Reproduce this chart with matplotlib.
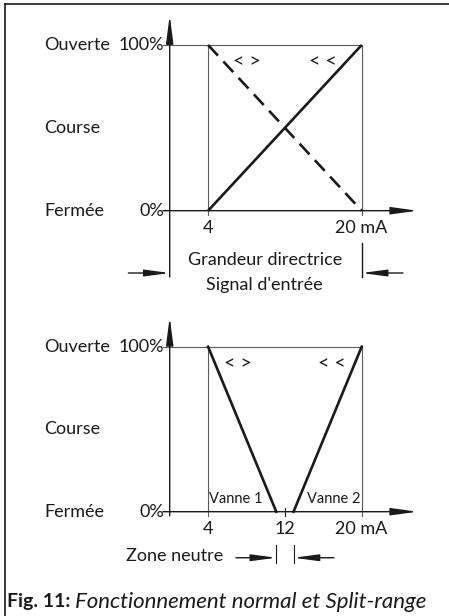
import matplotlib
matplotlib.use("Agg")
import matplotlib.pyplot as plt

plt.rcParams["font.family"] = ["Lato", "DejaVu Sans"]

# signal (mA) and valve stroke (%)
signal_range = [4, 20]
stroke_direct = [0, 100]
stroke_reverse = [100, 0]

valve1_signal = [4, 11.1]
valve1_stroke = [100, 0]
valve2_signal = [12.9, 20]
valve2_stroke = [0, 100]

stroke_labels = ["Ouverte", "Course", "Fermée"]
stroke_levels = [100, 50, 0]

W, H = 449, 616
fig = plt.figure(figsize=(W / 100, H / 100), dpi=100)

PX_MA = 9.6          # pixels per mA
X0 = 169.7           # pixel of 0 mA
xlim = (-X0 / PX_MA, (W - X0) / PX_MA)


def make_axes(zero_px, px_pct):
    ax = fig.add_axes([0, 0, 1, 1])
    ax.set_xlim(*xlim)
    zb = H - zero_px
    ax.set_ylim(-zb / px_pct, (H - zb) / px_pct)
    ax.axis("off")
    ax.patch.set_alpha(0)
    return ax


BLACK = "#1a1a1a"
GREY = "#5a5a5a"
FS = 13


def arrow(ax, x0, y0, x1, y1, hl=1.5, hw=0.2):
    ax.annotate("", xy=(x1, y1), xytext=(x0, y0),
                arrowprops=dict(arrowstyle=f"-|>,head_length={hl},head_width={hw}",
                                mutation_scale=10, lw=1.0, color=BLACK,
                                shrinkA=0, shrinkB=0),
                annotation_clip=False)


def frame(ax, ybottom):
    # axes with arrows
    arrow(ax, 0, ybottom, 0, 118, hl=1.7, hw=0.22)
    arrow(ax, -0.7, 0, 25.8, 0, hl=1.6, hw=0.22)
    ax.plot([-0.7, signal_range[1]], [100, 100], color=GREY, lw=0.8)
    for x in signal_range:
        ax.plot([x, x], [-2.5, 100], color=GREY, lw=0.8)
    for lab, lvl in zip(stroke_labels, stroke_levels):
        ax.text(-13.1, lvl, lab, ha="left", va="center", fontsize=FS, color=BLACK)
    ax.text(-0.6, 100, "100%", ha="right", va="center", fontsize=FS, color=BLACK)
    ax.text(-0.6, 0, "0%", ha="right", va="center", fontsize=FS, color=BLACK)
    ax.text(4, -10.6, "4", ha="center", va="center", fontsize=FS, color=BLACK)
    ax.text(17.2, -10.6, "20 mA", ha="left", va="center", fontsize=FS, color=BLACK)


# --- top chart: normal operation
ax1 = make_axes(210.7, 1.657)
frame(ax1, -40)
ax1.plot(signal_range, stroke_direct, color=BLACK, lw=1.9, solid_capstyle="butt")
ax1.plot(signal_range, stroke_reverse, color=BLACK, lw=1.9, dashes=(5.5, 3))
ax1.text(8.05, 90, "< >", ha="center", va="center", fontsize=14, color=BLACK)
ax1.text(16.0, 90, "< <", ha="center", va="center", fontsize=14, color=BLACK)
ax1.plot([20, 20], [-19.5, -40], color=BLACK, lw=1.0)
arrow(ax1, -4.3, -37.6, 0, -37.6, hl=1.5, hw=0.2)
arrow(ax1, 24.3, -37.6, 20, -37.6, hl=1.5, hw=0.2)
ax1.text(9.9, -29.8, "Grandeur directrice", ha="center", va="center", fontsize=FS, color=BLACK)
ax1.text(9.9, -44.8, "Signal d'entrée", ha="center", va="center", fontsize=FS, color=BLACK)

# --- bottom chart: split range
ax2 = make_axes(511.7, 1.65)
frame(ax2, -2.5)
ax2.plot(valve1_signal, valve1_stroke, color=BLACK, lw=1.9)
ax2.plot(valve2_signal, valve2_stroke, color=BLACK, lw=1.9)
ax2.plot([12, 12], [-2.5, 2.5], color=BLACK, lw=0.8)
ax2.text(12, -10.6, "12", ha="center", va="center", fontsize=FS, color=BLACK)
ax2.text(7.1, 90, "< >", ha="center", va="center", fontsize=14, color=BLACK)
ax2.text(16.9, 90, "< <", ha="center", va="center", fontsize=14, color=BLACK)
ax2.text(4.1, 7.7, "Vanne 1", ha="left", va="center", fontsize=10.5, color=BLACK)
ax2.text(19.85, 7.7, "Vanne 2", ha="right", va="center", fontsize=10.5, color=BLACK)
ax2.text(-4.5, -26.8, "Zone neutre", ha="left", va="center", fontsize=FS, color=BLACK)
for x in (valve1_signal[1], valve2_signal[0]):
    ax2.plot([x, x], [-20.2, -31], color=BLACK, lw=0.8)
arrow(ax2, 6.9, -27.9, valve1_signal[1], -27.9, hl=1.5, hw=0.2)
arrow(ax2, 17.1, -27.9, valve2_signal[0], -27.9, hl=1.5, hw=0.2)

# page border (top and left)
fig.add_artist(plt.Line2D([5 / W, 5 / W], [0, 1 - 4 / H], color=BLACK, lw=1.2))
fig.add_artist(plt.Line2D([5 / W, 1], [1 - 4 / H, 1 - 4 / H], color=BLACK, lw=1.2))

# caption
t = fig.text(7 / W, 1 - 602 / H, "Fig. 11:", fontsize=14, fontweight="bold",
             ha="left", va="center", color=BLACK)
fig.canvas.draw()
bb = t.get_window_extent()
fig.text(bb.x1 / W + 5 / W, 1 - 602 / H, "Fonctionnement normal et Split-range",
         fontsize=16, fontstyle="italic", ha="left", va="center", color=BLACK)

fig.savefig("out.png", dpi=100)
